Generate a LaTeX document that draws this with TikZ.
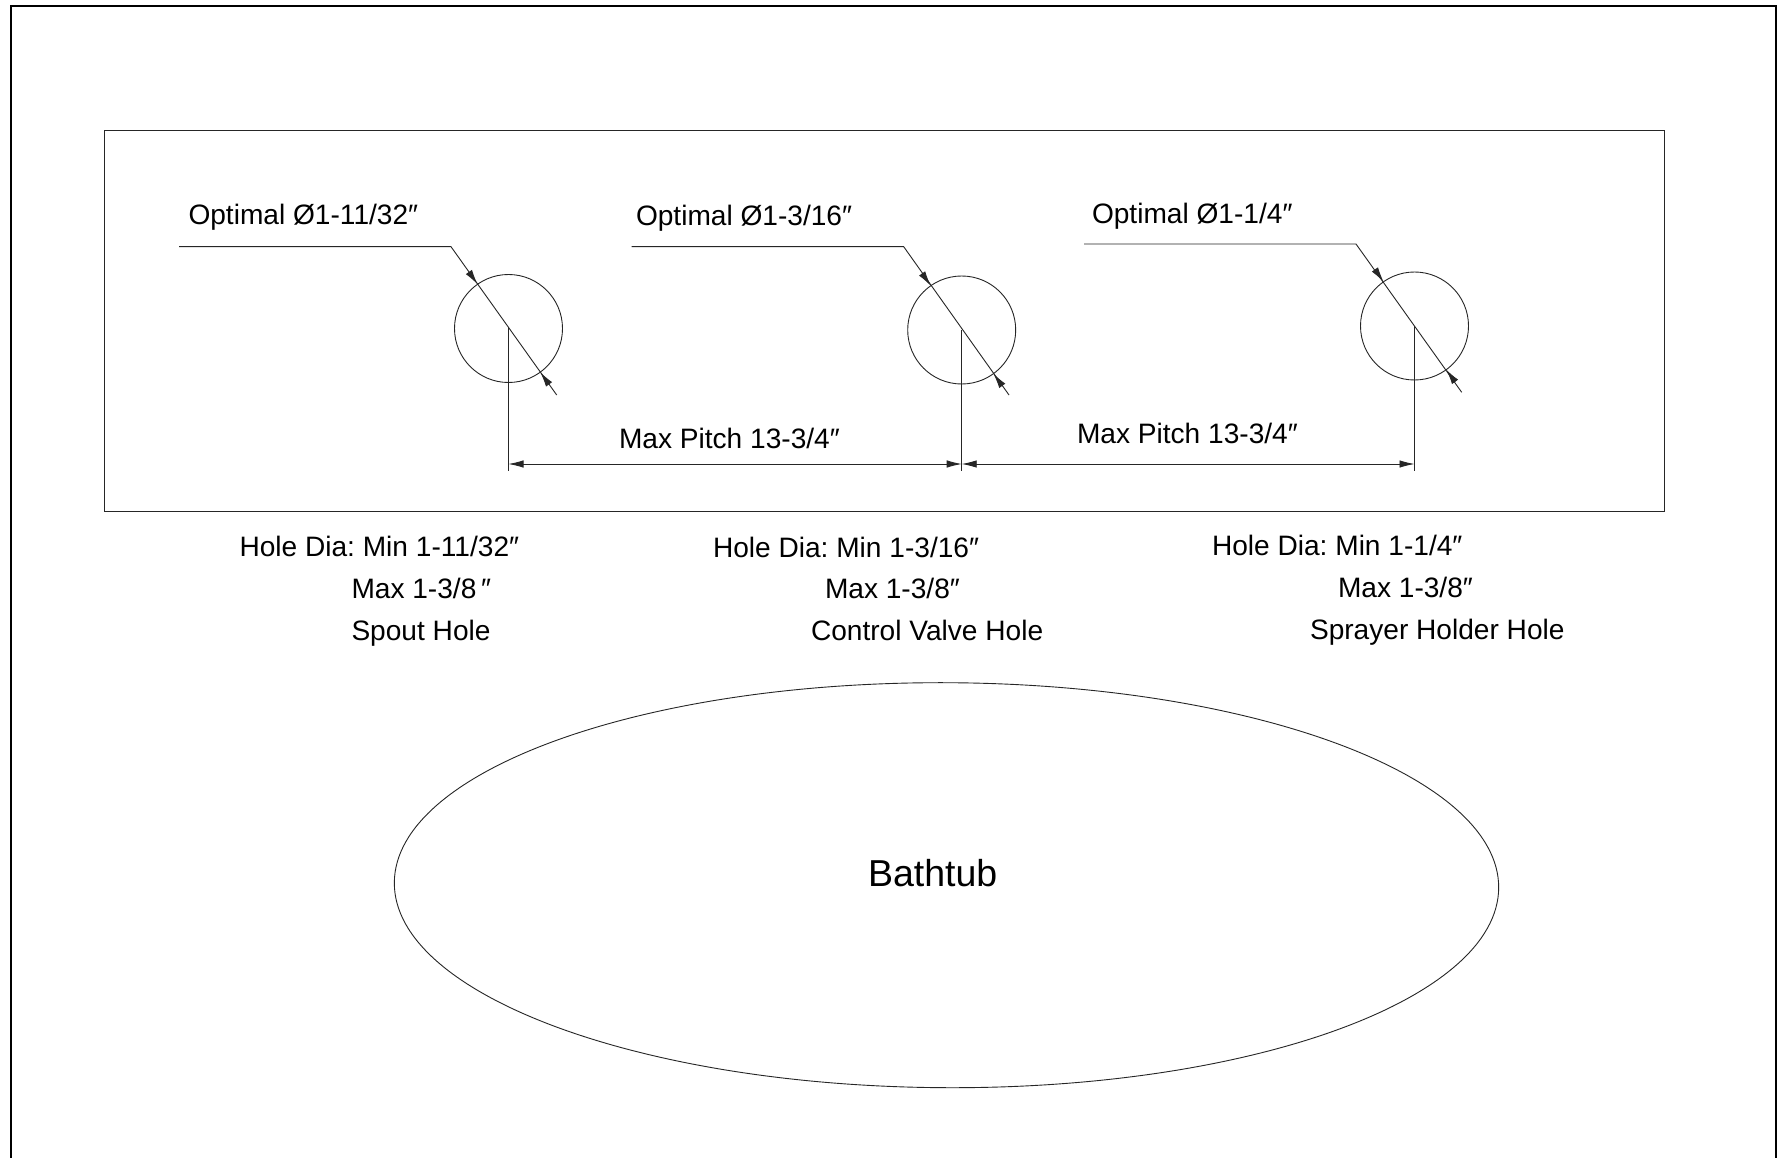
\documentclass[tikz,border=0pt]{standalone}
\usepackage{fontspec}
\setmainfont{Liberation Sans}
\frenchspacing
\usetikzlibrary{arrows.meta,calc,shapes.geometric}
\tikzset{
  x=1pt,y=-1pt,
  thinline/.style={draw=black!85,line width=0.9pt},
  hole/.style={circle,draw=black!85,line width=0.9pt,minimum size=108pt,inner sep=0pt,outer sep=0pt},
  lbl/.style={inner sep=0pt,outer sep=0pt,anchor=base west,font=\fontsize{28.1}{28.1}\selectfont,text=black},
  tip/.style={-{Latex[length=15pt,width=7.5pt]}},
  dimtips/.style={{Latex[length=15pt,width=7.5pt]}-{Latex[length=15pt,width=7.5pt]}},
  frameline/.style={draw=black,line width=2.2pt}
}
\begin{document}
\begin{tikzpicture}
\useasboundingbox (0,0) rectangle (1778,1158);
\fill[white] (0,0) rectangle (1778,1158);
% outer frame
\coordinate (fbl) at (11,1158);
\coordinate (ftl) at (11,6);
\coordinate (ftr) at (1775.8,6);
\coordinate (fbr) at (1775.8,1158);
\draw[frameline] (fbl) -- (ftl) -- (ftr) -- (fbr);
% panel
\node[rectangle,thinline,inner sep=0pt,outer sep=0pt,minimum width=1559.5pt,minimum height=380.5pt] (panel) at (884.25,320.75) {};
% holes
\node[hole] (h1) at (508.5,328.5) {};
\node[hole] (h2) at (961.7,330) {};
\node[hole] (h3) at (1414.5,326) {};
% tub
\node[ellipse,thinline,inner sep=0pt,outer sep=0pt,minimum width=1104.4pt,minimum height=405pt,rotate=-0.26] (tub) at (946.5,885.2) {};
% leaders
\coordinate (l1s) at (179,246.7); \coordinate (l1k) at (451,246.7); \coordinate (l1e) at (556.7,395);
\coordinate (l2s) at (631.5,246.7); \coordinate (l2k) at (903.7,246.7); \coordinate (l2e) at (1009,395);
\coordinate (l3s) at (1084,244); \coordinate (l3k) at (1356,244); \coordinate (l3e) at (1461.7,392.3);
\draw[thinline] (l1s) -- (l1k) -- (l1e);
\draw[thinline] (l2s) -- (l2k) -- (l2e);
\draw[thinline] (l3s) -- (l3k) -- (l3e);
% arrowheads on the diameters
\foreach \h in {h1,h2,h3}{
  \draw[thinline,tip,black!85] ($(\h)!1.28!(\h.125.5)$) -- (\h.125.5);
  \draw[thinline,tip,black!85] ($(\h)!1.28!(\h.-54.5)$) -- (\h.-54.5);
}
% extension lines
\coordinate (e1) at (508.5,471); \coordinate (e2) at (961.7,471); \coordinate (e3) at (1414.5,471);
\coordinate (d1) at (508.5,464); \coordinate (d2) at (961.7,464); \coordinate (d3) at (1414.5,464);
\draw[thinline] (h1.center) -- (e1);
\draw[thinline] (h2.center) -- (e2);
\draw[thinline] (h3.center) -- (e3);
\draw[thinline,dimtips] (d1) -- (d2);
\draw[thinline,dimtips] (d2) -- (d3);
% texts
\node[lbl] (t1) at (188.5,225) {Optimal Ø1-11/32″};
\node[lbl] (t2) at (636,226) {Optimal Ø1-3/16″};
\node[lbl] (t3) at (1092,224) {Optimal Ø1-1/4″};
\node[lbl] (p1) at (619,448) {Max Pitch 13-3/4″};
\node[lbl] (p2) at (1077,443.5) {Max Pitch 13-3/4″};
\node[lbl] (a1) at (239.5,556) {Hole Dia: Min 1-11/32″};
\node[lbl] (a2) at (351.5,598) {Max 1-3/8\,″};
\node[lbl] (a3) at (351.5,640) {Spout Hole};
\node[lbl] (b1) at (713,557) {Hole Dia: Min 1-3/16″};
\node[lbl] (b2) at (825,598) {Max 1-3/8″};
\node[lbl] (b3) at (811,640) {Control Valve Hole};
\node[lbl] (c1) at (1212,555) {Hole Dia: Min 1-1/4″};
\node[lbl] (c2) at (1338,597) {Max 1-3/8″};
\node[lbl] (c3) at (1310,639) {Sprayer Holder Hole};
\node[lbl,font=\fontsize{37.5}{37.5}\selectfont] (tubl) at (868,886) {Bathtub};
\end{tikzpicture}
\end{document}
